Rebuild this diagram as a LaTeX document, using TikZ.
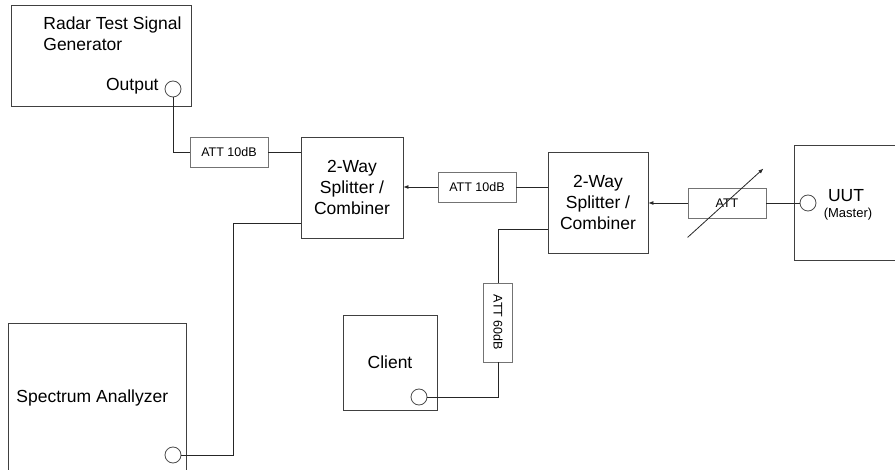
\documentclass[tikz,border=0pt]{standalone}
\usepackage{fontspec}
\setmainfont{Liberation Sans}
\usetikzlibrary{arrows.meta,calc}

\begin{document}
\begin{tikzpicture}[
	x=1pt, y=-1pt,
	line width=0.8pt,
	unit/.style={shape=rectangle, draw=black!75, fill=white, inner sep=0pt},
	attbox/.style={shape=rectangle, draw=black!55, fill=white, inner sep=0pt,
		minimum width=78, minimum height=30, font=\fontsize{12.5}{14}\selectfont},
	port/.style={shape=circle, draw=black!70, fill=white, minimum size=16, inner sep=0pt},
	big/.style={font=\fontsize{17.5}{21}\selectfont},
	wire/.style={draw=black!85},
	sig/.style={draw=black!85, -{Latex[length=5pt,width=4pt]}}
	]
	\useasboundingbox (0,0) rectangle (895,470);
	\clip (0,0) rectangle (895,470);

	\node[unit, minimum width=180, minimum height=101] (gen) at (101,55.5) {};
	\node[big, anchor=north west, align=left, inner sep=0pt] (genlbl) at (43,16.5) {Radar Test Signal\\Generator};
	\node[big, anchor=base east, inner sep=0pt] (outlbl) at (159,91) {Output};
	\node[port] (out) at (173,89) {};

	\node[attbox] (att1) at (229,152) {ATT 10dB};
	\node[unit, big, align=center, minimum width=102, minimum height=101] (spl1) at (352,187.5) {2-Way\\Splitter /\\Combiner};
	\node[attbox] (att2) at (477,187) {ATT 10dB};
	\node[unit, big, align=center, minimum width=100, minimum height=101] (spl2) at (598,202.5) {2-Way\\Splitter /\\Combiner};
	\node[attbox] (attv) at (727,203) {ATT};

	\node[unit, minimum width=130, minimum height=115] (uut) at (859,202.5) {};
	\node[big, anchor=base] (uutlbl) at (846,202) {UUT};
	\node[font=\fontsize{13}{15}\selectfont, anchor=base] (mstr) at (848,218) {(Master)};
	\node[port] (uutport) at (808,203) {};

	\node[attbox, minimum width=29, minimum height=79] (att3) at (498,322.5) {\rotatebox{-90}{ATT 60dB}};
	\node[unit, big, minimum width=94, minimum height=95] (client) at (390,362.5) {Client};
	\node[port] (clport) at (419,397) {};

	\node[unit, minimum width=178, minimum height=200] (sa) at (97,423) {};
	\node[big, anchor=base west, inner sep=0pt] (salbl) at (16,403) {Spectrum Anallyzer};
	\node[port] (saport) at (173,455) {};

	\coordinate (tap1) at ($(spl1.west)+(0,35.5)$);
	\coordinate (bend1) at (233,223);
	\coordinate (tap2) at ($(spl2.west)+(0,26.5)$);

	\draw[wire] (out.south) |- (att1.west);
	\draw[wire] (att1.east) -- (att1.east -| spl1.west);
	\draw[sig] (att2.west) -- (att2.west -| spl1.east);
	\draw[wire] (att2.east) -- (att2.east -| spl2.west);
	\draw[sig] (attv.west) -- (attv.west -| spl2.east);
	\draw[wire] (attv.east) -- (uutport.west);
	\draw[wire] (tap1) -- (bend1) |- (saport.east);
	\draw[wire] (tap2) -| (att3.north);
	\draw[wire] (att3.south) |- (clport.east);
	\draw[sig] ($(attv.south west)+(0,19)$) -- ($(attv.north east)+(-3,-19)$);
\end{tikzpicture}
\end{document}
